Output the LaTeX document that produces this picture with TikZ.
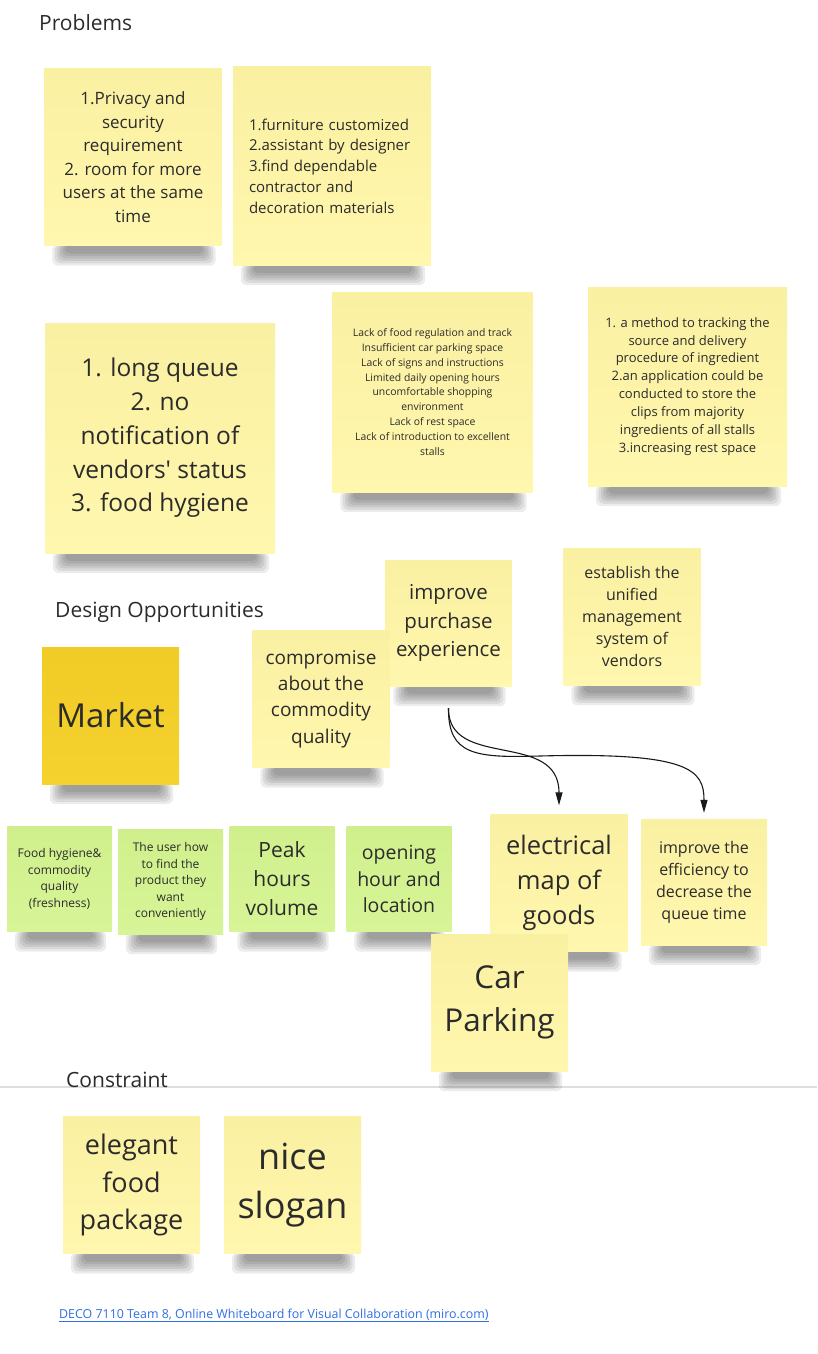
\documentclass[tikz,border=0pt]{standalone}
\usepackage{fontspec}
\setmainfont{Open Sans}[Ligatures=TeXOff]
\usetikzlibrary{arrows.meta}
\definecolor{noteyellow}{HTML}{FFF7AE}
\definecolor{notetop}{HTML}{FAF0A2}
\definecolor{notegreen}{HTML}{D7F597}
\definecolor{greentop}{HTML}{D0EF8C}
\definecolor{marketyellow}{HTML}{F5D22E}
\definecolor{markettop}{HTML}{F1CB26}
\definecolor{inkgray}{HTML}{2B2B2B}
\definecolor{linkblue}{HTML}{2F6FE3}
\definecolor{rulegray}{HTML}{DEDEDE}
\pgfdeclarelayer{background}
\pgfsetlayers{background,main}
\newcommand{\notesize}[2][138]{\fontsize{#2pt}{\dimexpr #2pt*#1/100\relax}\selectfont}
\begin{document}
\begin{tikzpicture}[
            x=1pt, y=-1pt,
            sticky/.style={top color=notetop, bottom color=noteyellow, inner sep=0pt, align=center, text=inkgray, minimum size=#1},
            sticky/.default=137pt,
            greensticky/.style={sticky=105pt, top color=greentop, bottom color=notegreen},
            marketsticky/.style={sticky, top color=markettop, bottom color=marketyellow},
            heading/.style={anchor=base west, inner sep=0pt, text=inkgray, font=\notesize{21}},
            flow/.style={draw=black!90, line width=1.1pt, -{Triangle[length=13pt,width=7pt]}}
            ]
        \useasboundingbox (0,0) rectangle (817,1354);
        \node[heading] (problems) at (39,31) {Problems};
        \node[sticky=177pt, font=\notesize{17}] (privacy) at (133,157)
            {1.Privacy and\\security\\requirement\\2. room for more\\users at the same\\time};
        \node[sticky=198pt, align=left, text width=166pt, font=\notesize{15}] (furniture) at (332,166)
            {1.furniture customized\\2.assistant by designer\\3.find dependable\\contractor and\\decoration materials};
        \node[sticky=230pt, font=\notesize{24.5}] (queue) at (160,438)
            {1. long queue\\2. no\\notification of\\vendors' status\\3. food hygiene};
        \node[sticky=200pt, font={\notesize[143]{10.4}}] (lacks) at (432.5,392)
            {Lack of food regulation and track\\Insufficient car parking space\\Lack of signs and instructions\\Limited daily opening hours\\uncomfortable shopping\\environment\\Lack of rest space\\Lack of introduction to excellent\\stalls};
        \node[sticky=199pt, font=\notesize{13}] (tracking) at (687.5,386.5)
            {1. a method to tracking the\\source and delivery\\procedure of ingredient\\2.an application could be\\conducted to store the\\clips from majority\\ingredients of all stalls\\3.increasing rest space};
        \node[heading] (design) at (55,617) {Design Opportunities};
        \node[marketsticky, font=\notesize{33}] (market) at (110.5,715.5) {Market};
        \node[sticky=126pt, font=\notesize{20.5}] (improve) at (448.5,623) {improve\\purchase\\experience};
        \node[sticky, font=\notesize{19}] (compromise) at (321,699) {compromise\\about the\\commodity\\quality};
        \node[sticky, font=\notesize{16}] (unified) at (632,616.5)
            {establish the\\unified\\management\\system of\\vendors};
        \node[greensticky, font=\notesize{12}] (hygiene) at (59.5,879) {Food hygiene\&\\commodity\\quality\\(freshness)};
        \node[greensticky, font=\notesize{12}] (finder) at (170.5,881.5)
            {The user how\\to find the\\product they\\want\\conveniently};
        \node[greensticky, font=\notesize{21}] (peak) at (282,879) {Peak\\hours\\volume};
        \node[greensticky, font=\notesize{19.5}] (opening) at (399,879) {opening\\hour and\\location};
        \node[sticky, font=\notesize{25.5}] (elecmap) at (559,883) {electrical\\map of\\goods};
        \node[sticky=126pt, font=\notesize{16}] (efficiency) at (704,882)
            {improve the\\efficiency to\\decrease the\\queue time};
        \node[sticky, font=\notesize{31.5}] (parking) at (499.5,1002.5) {Car\\Parking};
        \coordinate (fork) at ([yshift=-22pt]improve.south);
        \draw[flow, shorten >=9pt] (fork) .. controls (448,770) and (559,730) .. (elecmap);
        \draw[flow, shorten >=6pt] (fork) .. controls (448,755) and (475,758) .. (540,756)
            .. controls (690,752) and (704,770) .. (efficiency);
        \node[heading] (constraint) at (66,1087) {Constraint};
        \node[sticky, font=\notesize{27}] (package) at (131.5,1185) {elegant\\food\\package};
        \node[sticky, font=\notesize{36}] (slogan) at (292.5,1185) {nice\\slogan};
        \node[anchor=base west, inner sep=0pt, text=linkblue, font=\notesize{12.4}] (link) at (59,1318)
            {\underline{DECO 7110 Team 8, Online Whiteboard for Visual Collaboration (miro.com)}};
        \begin{pgfonlayer}{background}
            \fill[white] (0,0) rectangle (817,1354);
            \draw[rulegray, line width=1.5pt] (0,1087) -- (817,1087);
            \foreach \n in {privacy,furniture,queue,lacks,tracking,market,improve,compromise,unified,
                hygiene,finder,peak,opening,elecmap,efficiency,parking,package,slogan}
                \foreach \k in {0,...,5}
                    \fill[black, opacity=.075, rounded corners=6pt]
                        ([xshift={8pt+2.5pt*\k}, yshift=1pt]\n.south west) rectangle ([xshift={-6pt-2.5pt*\k}, yshift={-20pt+2.4pt*\k}]\n.south east);
        \end{pgfonlayer}
        \end{tikzpicture}
\end{document}
